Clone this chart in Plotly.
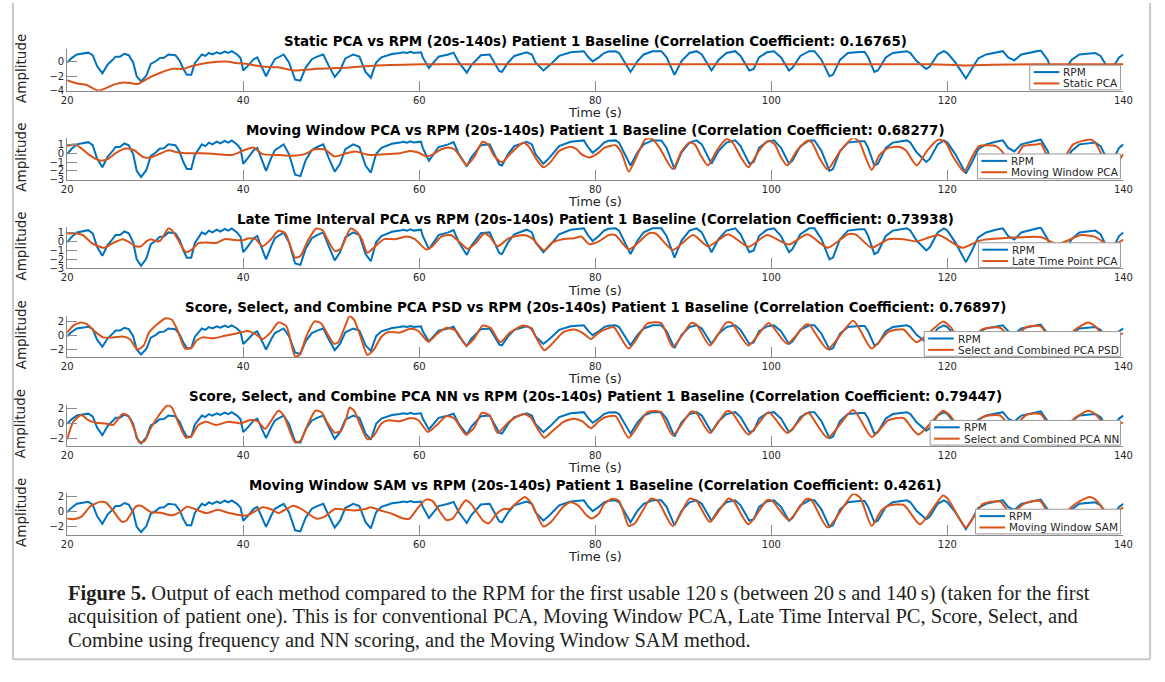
import plotly.graph_objects as go

W, H = 1165, 682

# ---------------- data ----------------
# RPM reference respiratory trace (seconds, amplitude)
rpm_t = [20.0, 20.5, 21.1, 21.8, 22.4, 22.9, 23.4, 24.0, 24.6, 25.2, 25.5, 26.0, 26.5, 27.0, 27.5, 27.9,
         28.4, 29.0, 29.5, 30.1, 30.5, 31.0, 31.5, 32.3, 32.8, 33.2, 33.6, 34.1, 34.5, 35.3, 35.7, 36.1,
         36.5, 37.0, 37.4, 37.9, 38.3, 38.7, 39.3, 39.7, 40.0, 40.5, 41.2, 41.6, 42.6, 43.2, 43.6, 44.6,
         45.2, 45.9, 46.5, 47.1, 47.8, 48.4, 49.1, 49.7, 50.4, 51.0, 51.6, 52.5, 53.2, 53.9, 54.5, 55.1,
         55.7, 56.9, 57.3, 57.8, 58.2, 58.6, 59.0, 59.4, 60.2, 60.4, 61.1, 61.6, 62.2, 63.3, 63.9, 64.5,
         65.4, 65.9, 67.0, 68.0, 68.5, 69.1, 69.4, 70.1, 70.8, 72.2, 72.8, 73.2, 74.1, 74.8, 75.9, 77.2,
         78.7, 79.2, 79.7, 80.4, 81.0, 81.5, 82.3, 82.7, 84.0, 84.8, 85.5, 86.5, 87.5, 88.1, 89.0, 89.8,
         90.7, 91.5, 92.1, 93.2, 94.0, 94.9, 95.9, 96.5, 97.5, 98.0, 98.6, 99.5, 100.3, 101.1, 102.0, 102.4,
         103.3, 104.3, 104.9, 105.7, 106.6, 107.0, 107.8, 108.7, 110.0, 110.6, 111.0, 111.7, 112.1, 113.0,
         113.8, 115.4, 115.8, 116.5, 117.6, 118.0, 118.9, 119.6, 120.0, 120.9, 122.1, 122.7, 123.5, 124.4,
         125.5, 126.3, 126.9, 127.6, 128.4, 129.6, 130.6, 131.4, 132.0, 132.6, 133.3, 134.1, 135.0, 136.8,
         137.4, 138.3, 139.1, 139.5, 140.0]
rpm_v = [-0.1, 0.5, 1.0, 1.1, 1.25, 0.9, -0.6, -1.6, -0.4, 0.3, 0.7, 0.7, 1.1, 0.9, -0.1, -2.0,
         -2.7, -1.9, -0.3, 0.1, 0.5, 0.55, 1.0, 0.9, 0.1, -1.0, -1.8, -1.8, -0.2, 1.0, 0.8, 1.2,
         1.0, 1.3, 1.1, 1.4, 1.2, 1.45, 1.0, 0.5, -1.2, -0.6, 0.35, 0.6, -2.0, -0.5, 0.35, 1.0,
         -0.1, -2.45, -2.6, -0.8, 0.35, 0.7, 1.0, -0.5, -2.1, -1.2, 0.45, 1.0, 0.7, -1.4, -2.2, -0.1,
         0.6, 1.07, 1.1, 1.2, 1.3, 1.2, 1.35, 1.2, 1.3, 0.6, -0.85, -0.1, 0.7, 1.0, 1.25, -0.1,
         -1.5, -0.5, 0.9, 1.0, -0.1, -1.3, -1.4, -0.1, 0.8, 1.3, 1.0, -0.1, -1.2, -0.5, 0.8, 1.3,
         1.45, 0.65, 0.05, 0.6, 1.2, 1.4, 1.45, 1.2, -1.4, 0.1, 1.0, 1.45, 1.45, 0.6, -1.8, 0.1,
         1.2, 1.45, 1.0, -1.2, 0.25, 1.2, 1.45, 0.8, -1.2, -1.0, 0.6, 1.3, 1.45, 0.6, -1.2, -0.85,
         0.8, 1.45, 1.45, 0.25, -2.0, -1.8, 0.25, 1.2, 1.35, 1.35, 0.6, -1.4, -1.2, 0.6,
         1.2, 1.45, 1.2, 0.1, -1.0, -0.65, 1.0, 1.45, 1.2, -0.1, -2.3, -1.2, 0.45, 1.0,
         1.3, 1.45, 0.6, 0.2, 1.0, 1.3, 1.55, 0.25, -1.9, -2.9, -1.2, 0.25, 1.0, 1.2,
         0.8, -1.0, -0.2, 0.6, 1.0]

# Static PCA output
static_t = [20.0, 21.1, 22.2, 23.3, 23.7, 24.4, 25.4, 26.5, 27.2, 28.0, 28.4, 29.5, 30.6, 31.9, 33.2,
            34.1, 35.8, 37.1, 38.4, 39.2, 40.5, 42.2, 44.0, 45.7, 47.0, 48.3, 50.0, 51.7, 53.4, 55.2,
            58.2, 60.3, 64.7, 69.0, 73.3, 80.4, 90.0, 100.0, 110.0, 118.0, 122.0, 125.0, 130.0, 140.0]
static_v = [-2.53, -2.98, -3.2, -3.87, -3.96, -3.64, -3.11, -2.84, -2.93, -3.07, -2.84, -2.09, -1.51, -0.98, -0.98,
            -0.62, -0.18, 0.0, 0.0, -0.18, -0.31, -0.67, -0.76, -1.2, -1.11, -0.98, -0.89, -0.84, -0.67, -0.53,
            -0.4, -0.36, -0.36, -0.33, -0.36, -0.36, -0.35, -0.33, -0.36, -0.34, -0.5, -0.4, -0.36, -0.33]

# Moving Window PCA output
mwpca_t = [20.0, 20.9, 21.5, 22.4, 23.3, 23.9, 24.6, 25.6, 26.7, 27.6, 28.7, 29.5, 30.6, 31.5, 32.6,
           33.4, 35.4, 37.1, 38.8, 40.1, 41.2, 42.2, 44.0, 45.7, 47.0, 48.1, 49.2, 50.4, 51.7, 52.8,
           53.9, 54.7, 56.0, 57.8, 59.0, 59.9, 60.8, 61.6, 62.5, 63.4, 64.0, 64.7, 65.4, 66.2, 67.2,
           67.8, 68.5, 69.4, 70.3, 71.8, 72.4, 73.3, 74.1, 74.9, 75.9, 77.2, 77.9, 78.4, 79.3, 80.4,
           81.0, 82.3, 83.0, 83.8, 84.6, 85.7, 86.5, 87.3, 88.8, 89.8, 90.7, 91.3, 92.0, 92.8, 93.8,
           94.9, 95.6, 96.5, 97.4, 98.6, 99.7, 100.4, 101.0, 101.8, 102.9, 104.1, 104.6, 105.5, 106.4,
           107.8, 109.3, 110.0, 110.6, 111.4, 112.3, 113.3, 114.6, 115.3, 116.5, 117.7, 119.0, 119.8,
           120.7, 121.9, 122.7, 123.6, 125.5, 126.2, 127.0, 127.8, 128.6, 130.2, 130.6, 131.4, 132.4,
           133.3, 134.3, 136.2, 136.8, 137.6, 138.4, 139.3, 140.0]
mwpca_v = [0.81, 1.0, 0.63, -0.11, -0.67, -0.85, -0.67, 0.07, 0.52, 0.33, -0.48, -0.48, -0.04, 0.33, 0.07,
           0.0, 0.0, -0.11, -0.19, 0.33, 0.63, -0.11, -0.22, -0.3, -0.11, 0.44, 0.44, -0.37, 0.0, 0.19,
           -0.11, -0.22, -0.11, 0.0, 0.26, 0.07, -0.37, -0.11, 0.44, 0.63, 0.44, -0.48, -1.33, -0.48, 1.3,
           1.0, -0.3, -1.04, -0.11, 1.19, 0.81, -0.67, -1.59, -1.04, 0.26, 0.74, 0.44, -0.11, -0.48, 0.07,
           0.6, 0.9, 0.0, -2.1, -0.6, 1.6, 1.6, 0.6, -1.8, 0.2, 1.2, 1.0, -0.3, -1.4, 0.3,
           1.6, 1.2, -0.4, -1.6, 0.3, 1.4, 1.0, -0.3, -1.4, 0.3, 1.4, 1.2, -0.6, -1.85,
           0.2, 1.75, 1.3, -0.2, -1.9, -0.2, 0.6, 0.7, 0.3, -1.4, 0.3, 1.55, 1.2,
           -0.5, -2.1, -0.6, 0.8, 0.8, 0.2, -1.0, -0.5, 0.8, 1.0, 1.1, -0.5, -2.2,
           -0.6, 1.0, 1.55, 1.2, -0.3, -1.4, -1.0, -0.1]

# Late Time Interval PCA output
late_t = [20.0, 21.1, 21.8, 22.8, 24.2, 25.2, 26.3, 26.9, 27.8, 28.4, 29.0, 29.5, 30.2, 30.6, 31.5,
          31.9, 32.6, 33.5, 34.2, 34.9, 35.8, 36.9, 37.9, 38.8, 39.9, 40.7, 41.4, 42.2, 43.1, 44.0,
          44.8, 45.9, 46.5, 47.4, 48.3, 49.0, 49.6, 50.4, 51.1, 52.2, 52.9, 53.5, 54.1, 55.0, 56.0,
          57.3, 58.6, 59.5, 60.8, 61.5, 62.5, 63.6, 64.5, 65.5, 66.4, 67.4, 68.0, 68.9, 70.2, 71.9,
          72.8, 74.2, 75.0, 76.3, 77.6, 78.4, 79.3, 80.4, 81.5, 82.3, 83.8, 86.1, 86.9, 88.8, 91.1,
          92.8, 95.1, 97.4, 99.5, 102.0, 104.1, 106.4, 108.7, 109.6, 111.4, 113.3, 115.0, 116.5, 119.0,
          121.7, 123.4, 124.2, 127.0, 129.0, 130.7, 132.5, 135.2, 136.8, 138.5, 140.0]
late_v = [0.89, 0.89, 0.71, -0.18, -0.71, -0.18, 0.25, 0.0, -0.54, -0.54, 0.0, 0.25, 0.0, 0.11, 1.43,
          1.25, 0.18, -1.18, -0.89, -0.18, -0.11, -0.18, 0.25, 0.18, 0.11, 0.36, 0.25, -0.54, 0.18, 1.18,
          0.89, -1.79, -1.61, 0.18, 1.43, 1.25, 0.18, -1.07, -0.82, 1.43, 1.07, 0.18, -1.25, -0.54, 0.25,
          0.25, 0.54, 0.25, -0.89, -0.54, 0.54, 0.71, 0.0, -0.82, -0.18, 0.89, 0.54, -0.54, 0.36, 0.71,
          0.36, -1.0, -0.18, 0.25, 0.36, 0.54, -0.3, 0.0, 0.7, 0.7, -0.9, 0.9, 0.85, -0.95, 0.7,
          -0.55, 0.8, -0.6, 0.7, -0.35, 0.8, -0.7, 0.8, 0.75, -0.7, 0.25, 0.25, 0.0, 0.7,
          -0.7, 0.0, 0.2, 0.4, 0.5, 0.46, -0.3, 0.7, 0.5, -0.5, 0.2]

# Score, Select and Combine PCA (PSD scoring) output
psd_t = [20.0, 20.7, 21.6, 22.2, 23.3, 24.1, 25.2, 26.3, 27.1, 28.0, 28.7, 29.3, 30.2, 31.2, 31.9,
         32.5, 33.4, 34.1, 34.7, 35.4, 36.6, 37.9, 39.2, 40.5, 41.4, 42.2, 43.1, 44.0, 44.9, 45.9,
         46.4, 47.2, 48.1, 48.8, 49.6, 50.3, 50.8, 51.5, 52.1, 52.6, 53.3, 54.1, 54.8, 55.7, 56.5,
         57.8, 59.0, 59.9, 61.0, 62.0, 63.1, 64.2, 65.3, 66.2, 67.2, 68.1, 69.2, 70.3, 71.8, 72.6,
         74.2, 75.1, 76.4, 77.6, 78.5, 79.5, 80.4, 81.2, 82.1, 83.8, 85.9, 87.5, 88.8, 90.9, 91.5,
         93.0, 94.9, 95.5, 97.4, 99.7, 101.8, 103.9, 104.3, 106.4, 109.3, 111.4, 113.3, 115.0, 116.5,
         119.5, 120.3, 122.0, 124.0, 126.0, 127.3, 129.0, 130.6, 132.4, 134.5, 136.0, 136.8, 138.4,
         139.7, 140.0]
psd_v = [0.41, 1.41, 1.86, 1.64, 0.41, -0.27, -0.27, -0.14, -0.5, -2.0, -1.41, 0.41, 1.55, 2.45, 2.23,
         0.86, -1.86, -1.77, -0.73, -0.27, -0.41, -0.05, 0.27, 0.64, 0.18, -0.5, 0.41, 1.86, 1.32, -3.0,
         -2.77, -0.05, 2.0, 1.77, 0.18, -1.18, -0.95, 1.09, 2.77, 2.23, -0.05, -2.77, -2.09, -0.18, 0.5,
         0.41, 0.95, 0.64, -0.86, 0.18, 1.09, 0.64, -1.41, -0.5, 1.41, 1.09, -0.95, 0.41, 1.41, 1.09,
         -2.09, -1.18, 0.5, 0.86, 0.41, -0.5, 0.41, 0.9, 1.18, -1.86, 1.68, 1.77, -1.64, 1.77, 1.55,
         -1.41, 1.86, 1.77, -1.41, 1.77, -1.18, 1.55, 1.55, -1.95, 2.09, -1.86, 0.5, 0.86, -0.95,
         2.0, 1.3, -1.5, 0.9, 1.1, -0.5, 1.2, 1.3, -1.8, 0.8, 1.86, 1.3, -0.8,
         0.2, 0.3]

# Score, Select and Combine PCA (NN scoring) output
nn_t = [20.0, 20.7, 21.6, 22.4, 23.3, 24.4, 25.2, 26.3, 26.9, 27.6, 28.2, 28.8, 29.5, 30.4, 31.4,
        31.9, 32.6, 33.5, 34.1, 34.9, 35.8, 36.9, 38.3, 39.7, 40.7, 41.6, 42.5, 43.1, 44.0, 44.6,
        45.9, 46.5, 47.4, 48.2, 48.9, 49.6, 50.4, 51.1, 51.7, 52.1, 52.6, 53.3, 54.1, 54.8, 55.7,
        56.5, 57.8, 59.0, 59.9, 61.0, 62.0, 63.1, 64.0, 65.3, 66.2, 67.1, 68.0, 68.9, 70.2, 71.8,
        72.6, 74.2, 75.1, 76.4, 77.6, 78.5, 79.5, 80.4, 81.2, 82.3, 83.8, 85.9, 87.3, 88.8, 90.9,
        91.5, 93.0, 94.9, 95.5, 97.4, 99.7, 101.8, 103.9, 104.3, 106.4, 109.3, 111.4, 113.3, 115.0,
        116.7, 119.5, 120.3, 122.0, 124.0, 126.0, 127.3, 129.0, 130.6, 132.4, 134.5, 136.0, 136.8,
        138.4, 139.7, 140.0]
nn_v = [-2.15, 0.17, 1.09, 0.38, 0.04, -0.04, -0.25, 1.22, 1.01, -0.67, -2.57, -2.36, -0.67, 1.01, 2.36,
        2.06, 0.17, -1.94, -1.73, -0.25, 0.17, -0.25, 0.17, -0.04, 0.38, 0.25, -0.76, 0.17, 1.64, 1.01,
        -2.57, -2.36, -0.04, 1.64, 1.43, -0.04, -1.26, -1.05, 0.59, 2.06, 1.64, -0.25, -2.15, -1.73, -0.04,
        0.38, 0.25, 0.67, 0.38, -1.18, -0.25, 0.93, 0.59, -1.52, -0.67, 1.35, 1.01, -1.3, 0.17, 1.22,
        0.8, -1.94, -1.09, 0.17, 0.59, 0.25, -0.67, 0.25, 0.8, 0.93, -1.94, 1.43, 1.52, -1.6, 1.56,
        1.3, -1.3, 1.56, 1.43, -1.52, 1.43, -1.3, 1.3, 1.3, -1.94, 1.73, -1.85, 0.38, 0.67,
        -1.52, 1.64, 1.0, -1.6, 0.8, 1.0, -0.6, 1.1, 1.2, -1.8, 0.7, 1.64, 1.2,
        -0.8, -0.04, 0.1]

# Moving Window SAM output
sam_t = [20.0, 20.7, 21.6, 22.6, 23.7, 24.4, 25.2, 26.2, 26.7, 27.8, 28.4, 29.5, 30.6, 31.9, 32.8,
         33.6, 34.5, 35.8, 37.1, 38.4, 39.7, 40.5, 42.2, 43.1, 44.0, 44.6, 45.7, 46.6, 48.3, 49.2,
         50.4, 51.7, 52.6, 53.9, 54.5, 55.6, 56.9, 58.2, 58.9, 59.9, 60.8, 61.5, 62.5, 63.1, 63.8,
         64.9, 65.3, 65.9, 67.2, 67.9, 68.8, 69.6, 70.3, 70.9, 72.0, 72.8, 74.1, 75.0, 76.3, 77.2,
         78.1, 79.0, 79.6, 80.4, 81.0, 81.9, 82.7, 83.8, 84.5, 86.3, 87.1, 88.8, 90.7, 91.5, 93.0,
         95.1, 95.7, 97.4, 99.5, 100.1, 102.0, 103.9, 104.5, 106.4, 109.3, 110.1, 111.4, 112.5, 113.3,
         115.0, 115.6, 116.9, 119.5, 120.1, 122.1, 123.0, 124.0, 126.0, 127.2, 128.7, 130.5, 132.3,
         134.0, 135.1, 136.2, 136.8, 138.5, 139.7, 140.0]
sam_v = [-0.92, -1.0, -0.71, 0.63, 1.25, 1.17, 0.13, -1.33, -1.21, 0.63, 0.75, -0.08, -0.17, -0.5, -0.08,
         0.63, 0.33, -0.21, 0.21, -0.21, -0.5, -0.5, 0.54, 0.33, -0.21, 0.13, 0.75, 0.33, -0.92, -0.71,
         0.33, 0.21, 0.13, 0.33, 0.54, 0.13, -0.29, -0.92, -0.92, 0.54, 1.58, 1.38, -0.29, -1.13, -0.92,
         0.96, 1.46, 0.96, -1.13, -1.54, -0.29, 0.33, 0.33, 0.96, 1.88, 0.96, -1.96, -1.33, 0.54, 1.25,
         0.75, -0.5, -0.92, -0.29, 0.96, 1.67, 1.38, -1.88, -1.54, 1.67, 1.38, -1.88, 1.67, 1.38, -1.33,
         1.67, 1.38, -1.67, 1.46, 1.38, -1.13, 1.58, 1.58, -2.08, 2.29, 1.79, -1.88, 0.13, 0.75,
         0.88, 0.13, -1.67, 2.08, 1.58, -2.08, -0.71, 0.96, 1.3, -0.3, 1.0, 1.4, -1.7,
         0.5, 1.38, 1.88, 1.58, -0.5, 0.33, 0.5]

titles = [
    "Static PCA vs RPM (20s-140s) Patient 1 Baseline (Correlation Coefficient: 0.16765)",
    "Moving Window PCA vs RPM (20s-140s) Patient 1 Baseline (Correlation Coefficient: 0.68277)",
    "Late Time Interval PCA vs RPM (20s-140s) Patient 1 Baseline (Correlation Coefficient: 0.73938)",
    "Score, Select, and Combine PCA PSD vs RPM (20s-140s) Patient 1 Baseline (Correlation Coefficient: 0.76897)",
    "Score, Select, and Combine PCA NN vs RPM (20s-140s) Patient 1 Baseline (Correlation Coefficient: 0.79447)",
    "Moving Window SAM vs RPM (20s-140s) Patient 1 Baseline (Correlation Coefficient: 0.4261)",
]
method_names = ["Static PCA", "Moving Window PCA", "Late Time Point PCA",
                "Select and Combined PCA PSD", "Select and Combined PCA NN", "Moving Window SAM"]
method_t = [static_t, mwpca_t, late_t, psd_t, nn_t, sam_t]
method_v = [static_v, mwpca_v, late_v, psd_v, nn_v, sam_v]
y_ticks = [[-4, -2, 0], [-3, -2, -1, 0, 1], [-3, -2, -1, 0, 1], [-2, 0, 2], [-2, 0, 2], [-2, 0, 2]]
y_ranges = [[-4.0, 1.7], [-3.0, 1.7], [-3.0, 1.6], [-3.1, 2.8], [-3.05, 2.45], [-3.05, 2.35]]
x_ticks = [20, 40, 60, 80, 100, 120, 140]

caption_lines = [
    "<b>Figure 5.</b> Output of each method compared to the RPM for the first usable 120\u2009s (between 20\u2009s and 140\u2009s) (taken for the first",
    "acquisition of patient one). This is for conventional PCA, Moving Window PCA, Late Time Interval PC, Score, Select, and",
    "Combine using frequency and NN scoring, and the Moving Window SAM method.",
]

# ---------------- layout helpers ----------------
BLUE = "#0072BD"
ORANGE = "#D95319"
AXIS = "#8a8a8a"
TXT = "#262626"
SANS = "DejaVu Sans"

LEFT, RIGHT = 62, 1133
BOTTOMS = [89, 179, 269, 359, 449, 539]
PANEL_H = 42
LEGEND_LEFT = [1038, 985, 986, 931, 937, 983]   # left edge of each legend box (px)
LEGEND_RIGHT = 1130
LEGEND_H = 25


def px_x(p):
    return p / W


def px_y(p):
    return 1 - p / H


fig = go.Figure()
annotations = []
shapes = []
layout = dict(
    width=W, height=H, autosize=False,
    margin=dict(l=0, r=0, t=0, b=0, pad=0),
    paper_bgcolor="white", plot_bgcolor="white",
    font=dict(family=SANS, color=TXT),
    showlegend=False,
)

for i in range(6):
    n = "" if i == 0 else str(i + 1)
    xa, ya = "x" + n, "y" + n
    bottom = BOTTOMS[i]
    top = bottom - PANEL_H

    fig.add_trace(go.Scatter(x=rpm_t, y=rpm_v, mode="lines", name="RPM",
                             line=dict(color=BLUE, width=2), xaxis=xa, yaxis=ya))
    fig.add_trace(go.Scatter(x=method_t[i], y=method_v[i], mode="lines", name=method_names[i],
                             line=dict(color=ORANGE, width=2, shape="spline", smoothing=0.6),
                             xaxis=xa, yaxis=ya))

    layout["xaxis" + n] = dict(
        domain=[px_x(LEFT), px_x(RIGHT)], anchor=ya, range=[20, 140],
        tickvals=x_ticks, ticks="inside", ticklen=10, tickcolor=AXIS, tickwidth=1,
        showline=True, linecolor=AXIS, linewidth=1, showgrid=False, zeroline=False,
        tickfont=dict(size=10, color=TXT, family=SANS), fixedrange=True,
    )
    layout["yaxis" + n] = dict(
        domain=[px_y(bottom), px_y(top)], anchor=xa, range=y_ranges[i],
        tickvals=y_ticks[i], ticks="inside", ticklen=10, tickcolor=AXIS, tickwidth=1,
        showline=True, linecolor=AXIS, linewidth=1, showgrid=False, zeroline=False,
        tickfont=dict(size=10, color=TXT, family=SANS), fixedrange=True,
    )

    # compact legend box in the lower-right corner of the panel
    lb, lt = bottom - 1, bottom - 1 - LEGEND_H
    ll = LEGEND_LEFT[i]
    shapes.append(dict(type="rect", xref="paper", yref="paper", layer="above",
                       x0=px_x(ll), x1=px_x(LEGEND_RIGHT), y0=px_y(lb), y1=px_y(lt),
                       fillcolor="white", line=dict(color="#9a9a9a", width=1)))
    for k, (label, col) in enumerate([("RPM", BLUE), (method_names[i], ORANGE)]):
        ry = lt + 7 + 11.5 * k
        shapes.append(dict(type="line", xref="paper", yref="paper", layer="above",
                           x0=px_x(ll + 4), x1=px_x(ll + 30), y0=px_y(ry), y1=px_y(ry),
                           line=dict(color=col, width=2)))
        annotations.append(dict(
            text=label, xref="paper", yref="paper", x=px_x(ll + 32), y=px_y(ry),
            xanchor="left", yanchor="middle", showarrow=False,
            font=dict(size=10.5, color=TXT, family=SANS)))

    # panel title
    annotations.append(dict(
        text="<b>" + titles[i] + "</b>", xref="paper", yref="paper",
        x=px_x((LEFT + RIGHT) / 2), y=px_y(top - 8), xanchor="center", yanchor="middle",
        showarrow=False, font=dict(size=13.4, color="black", family=SANS)))
    # x label
    annotations.append(dict(
        text="Time (s)", xref="paper", yref="paper",
        x=px_x((LEFT + RIGHT) / 2), y=px_y(bottom + 22), xanchor="center", yanchor="middle",
        showarrow=False, font=dict(size=13, color=TXT, family=SANS)))
    # y label
    annotations.append(dict(
        text="Amplitude", xref="paper", yref="paper", textangle=-90,
        x=px_x(15), y=px_y(bottom - PANEL_H / 2 - 2), xanchor="center", yanchor="middle",
        showarrow=False, font=dict(size=13.5, color=TXT, family=SANS)))

# caption below the figure
for k, line in enumerate(caption_lines):
    annotations.append(dict(
        text=line, xref="paper", yref="paper",
        x=px_x(61), y=px_y(598 + 24 * k), xanchor="left", yanchor="middle",
        showarrow=False, align="left",
        font=dict(size=20.5, color="#231f20", family="Liberation Serif")))

layout["annotations"] = annotations

# light frame around figure + caption
frame = "#c8c8c8"
shapes += [
    dict(type="line", xref="paper", yref="paper", x0=px_x(7), x1=px_x(7), y0=px_y(0), y1=px_y(665),
         line=dict(color=frame, width=2)),
    dict(type="line", xref="paper", yref="paper", x0=px_x(7), x1=px_x(1160), y0=px_y(665), y1=px_y(665),
         line=dict(color=frame, width=2)),
    dict(type="line", xref="paper", yref="paper", x0=px_x(1160), x1=px_x(1160), y0=px_y(0), y1=px_y(665),
         line=dict(color=frame, width=2)),
]
layout["shapes"] = shapes

fig.update_layout(**layout)
fig.write_html("out.html")
